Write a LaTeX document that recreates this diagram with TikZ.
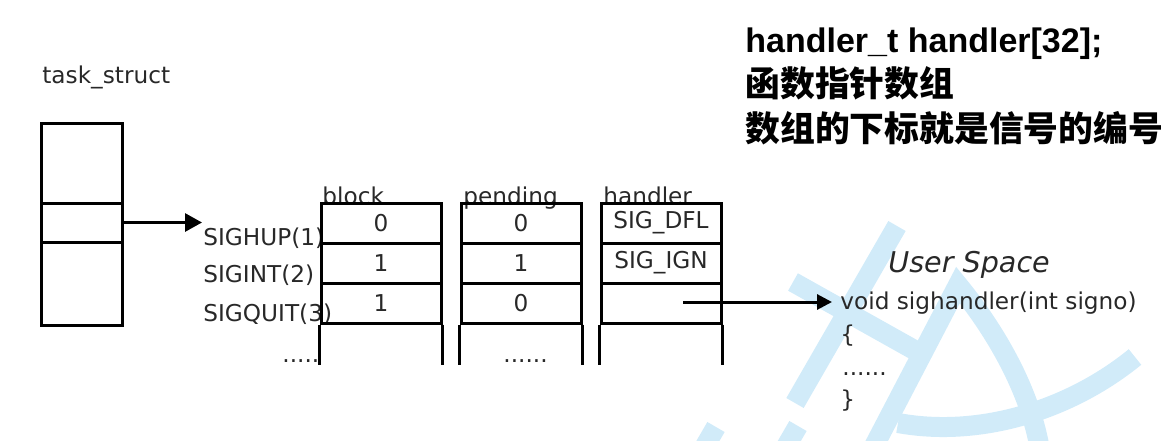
\documentclass[tikz,border=0pt]{standalone}
\usepackage{fontspec}
\setmainfont{DejaVu Sans}
\newfontfamily\titlefont{Liberation Sans}
\newfontfamily\cjk{Noto Sans CJK SC}
\usetikzlibrary{arrows.meta}
\definecolor{wm}{RGB}{209,235,249}
\definecolor{ink}{RGB}{40,40,40}
\begin{document}
\begin{tikzpicture}[x=0.5pt,y=-0.5pt,
  lbl/.style={font=\fontsize{11.6}{13}\selectfont, text=ink, inner sep=0pt},
  cell/.style={draw, line width=1.5pt, minimum width=60pt, minimum height=20pt, inner sep=0pt,
    font=\fontsize{11.6}{13}\selectfont, text=ink},
  tbox/.style={draw, line width=1.5pt, minimum width=40.5pt, inner sep=0pt},
  wmline/.style={draw=wm, line width=10pt, line cap=butt, line join=miter},
  ptr/.style={line width=1.5pt, -{Triangle[length=8.5pt,width=9pt]}},
  ptrr/.style={line width=1.5pt, -{Triangle[length=7.5pt,width=7.5pt]}},
  title/.style={inner sep=0pt, anchor=base west, text=black, font=\fontsize{17}{20}\selectfont\bfseries}
]
\useasboundingbox (0,0) rectangle (1168,440);
% watermark
\begin{scope}
\clip (0,0) rectangle (1168,440);
\path[wmline] (897,226) -- (795,403);
\path[wmline] (798,426) -- (780,457);
\path[wmline] (716,427) -- (698,458);
\path[wmline] (793,282) -- (918,352);
\path[wmline] (872,450) -- (958,285) .. controls (995,330) and (1030,390) .. (1040,450);
\path[wmline] (898,423) .. controls (980,438) and (1070,410) .. (1135,357);
\end{scope}

% title
\node[title] (t1) at (745,52) {\titlefont handler\_t handler[32];};
\node[title, font=\fontsize{17.4}{20}\selectfont\bfseries] (t2) at (745,96) {\cjk 函数指针数组};
\node[title, font=\fontsize{17.4}{20}\selectfont\bfseries] (t3) at (745,141) {\cjk 数组的下标就是信号的编号};

% task_struct
\node[lbl, anchor=base west] (tslbl) at (42,83) {task\_struct};
\node[tbox, minimum height=101pt] (taskbox) at (81.5,224) {};
\node[tbox, minimum height=19.5pt] (taskfield) at (81.5,222.5) {};

% signal names
\node[lbl, anchor=base west] (sighup) at (203,245) {SIGHUP(1)};
\node[lbl, anchor=base west] (sigint) at (203,282) {SIGINT(2)};
\node[lbl, anchor=base west] (sigquit) at (203,321) {SIGQUIT(3)};
\node[lbl, anchor=base west] (dots1) at (282,362) {.....};

\draw[ptr] (taskfield.east) -- ([xshift=-0.5pt]taskfield.east -| sighup.west);

% columns
\node[lbl, anchor=base west] (hblock) at (322,204) {block};
\node[lbl, anchor=base west] (hpend) at (463,204) {pending};
\node[lbl, anchor=base west] (hhand) at (603,204) {handler};

\node[cell] (b1) at (381,223) {0};
\node[cell] (b2) at (381,263) {1};
\node[cell] (b3) at (381,303) {1};
\node[cell] (p1) at (521,223) {0};
\node[cell] (p2) at (521,263) {1};
\node[cell] (p3) at (521,303) {0};
\node[cell] (h1) at (661,223) {SIG\_DFL};
\node[cell] (h2) at (661,263) {SIG\_IGN};
\node[cell] (h3) at (661,303) {};
\foreach \c in {b3,p3,h3}{
  \draw[line width=1.5pt] (\c.south west) -- ++(0,40);
  \draw[line width=1.5pt] (\c.south east) -- ++(0,40);
}
\node[lbl, anchor=base west] (dots2) at (503,362) {......};

% user space
\node[lbl, anchor=base west, font=\fontsize{14.3}{16}\selectfont\itshape] (us) at (888,272) {User Space};
\node[lbl, anchor=base west] (sigh) at (840,309) {void sighandler(int signo)};
\node[lbl, anchor=base west] (lb) at (840,342) {\{};
\node[lbl, anchor=base west] (dots3) at (842,375) {......};
\node[lbl, anchor=base west] (rb) at (840,407) {\}};

\coordinate (hstart) at (683,302);
\draw[ptrr] (hstart) -- ([xshift=-4pt]hstart -| sigh.west);
\end{tikzpicture}
\end{document}
